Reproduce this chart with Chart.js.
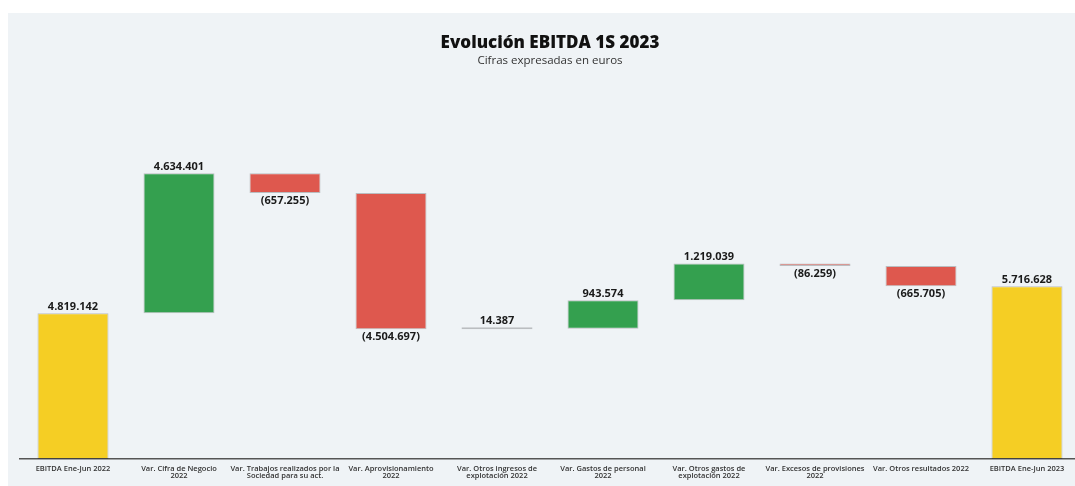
<!DOCTYPE html>
<html>
<head>
<meta charset="utf-8">
<script src="https://cdn.jsdelivr.net/npm/chart.js@4"></script>
<style>
  html, body { margin: 0; padding: 0; background: #fff; overflow: hidden; width: 1075px; height: 486px; }
  #panel { position: absolute; left: 8px; top: 13px; width: 1080px; height: 473px; background: #eff3f6; }
  #myChart { display: block; }
</style>
</head>
<body>
<div id="panel"><canvas id="myChart"></canvas></div>
<script>
const categories = [
    'EBITDA Ene-Jun 2022',
    ['Var. Cifra de Negocio', '2022'],
    ['Var. Trabajos realizados por la', 'Sociedad para su act.'],
    ['Var. Aprovisionamiento', '2022'],
    ['Var. Otros ingresos de', 'explotación 2022'],
    ['Var. Gastos de personal', '2022'],
    ['Var. Otros gastos de', 'explotación 2022'],
    ['Var. Excesos de provisiones', '2022'],
    'Var. Otros resultados 2022',
    'EBITDA Ene-Jun 2023'
];
// first and last are totals, the rest are changes
const changes = [4819142, 4634401, -657255, -4504697, 14387, 943574, 1219039, -86259, -665705, 5716628];
const isTotal = [true, false, false, false, false, false, false, false, false, true];

const yellow = '#f5ce24';
const green = '#34a04f';
const red = '#de584e';

// build floating ranges for the waterfall
let running = 0;
const ranges = changes.map((v, i) => {
    if (isTotal[i]) {
        running = v;
        return [0, v];
    }
    const start = running;
    running += v;
    return [start, running];
});
const colors = changes.map((v, i) => isTotal[i] ? yellow : (v >= 0 ? green : red));

function fmt(n) {
    return String(Math.abs(n)).replace(/\B(?=(\d{3})+(?!\d))/g, '.');
}

const valueLabels = {
    id: 'valueLabels',
    afterDatasetsDraw(chart) {
        const ctx = chart.ctx;
        const meta = chart.getDatasetMeta(0);
        ctx.save();
        ctx.font = 'bold 11px "Open Sans", sans-serif';
        ctx.fillStyle = '#1a1a1a';
        ctx.textAlign = 'center';
        meta.data.forEach((bar, i) => {
            const v = changes[i];
            const top = Math.min(bar.y, bar.base);
            const bottom = Math.max(bar.y, bar.base);
            if (v >= 0) {
                ctx.textBaseline = 'bottom';
                ctx.fillText(fmt(v), bar.x, top - 1);
            } else {
                ctx.textBaseline = 'top';
                ctx.fillText('(' + fmt(v) + ')', bar.x, bottom + 2);
            }
        });
        ctx.restore();
    }
};

const chartElement = document.getElementById('myChart');
chartElement.width = 1080;
chartElement.height = 473;

new Chart(chartElement, {
    type: 'bar',
    data: {
        labels: categories,
        datasets: [{
            data: ranges,
            backgroundColor: colors,
            borderColor: 'rgba(0, 0, 0, 0.22)',
            borderWidth: 1,
            borderSkipped: false,
            minBarLength: 2,
            barPercentage: 0.67,
            categoryPercentage: 1
        }]
    },
    options: {
        responsive: false,
        animation: false,
        layout: { padding: { left: 12, right: 8, top: 0, bottom: 0 } },
        plugins: {
            legend: { display: false },
            tooltip: { enabled: false },
            title: {
                display: true,
                text: 'Evolución EBITDA 1S 2023',
                color: '#111',
                font: { family: '"Open Sans", sans-serif', size: 17, weight: '800' },
                padding: { top: 20, bottom: 0 }
            },
            subtitle: {
                display: true,
                text: 'Cifras expresadas en euros',
                color: '#333',
                font: { family: '"Open Sans", sans-serif', size: 11.5 },
                padding: { top: 0, bottom: 29 }
            }
        },
        scales: {
            x: {
                grid: { display: false, drawTicks: false },
                border: { display: true, color: '#555', width: 1.5 },
                ticks: {
                    color: '#333',
                    font: { family: '"Open Sans", sans-serif', size: 7.5, weight: '600', lineHeight: 1 },
                    maxRotation: 0,
                    autoSkip: false,
                    padding: 6
                },
                afterFit(scale) { scale.height = 27; }
            },
            y: {
                display: false,
                min: 0,
                max: 12000000
            }
        }
    },
    plugins: [valueLabels]
});
</script>
</body>
</html>
